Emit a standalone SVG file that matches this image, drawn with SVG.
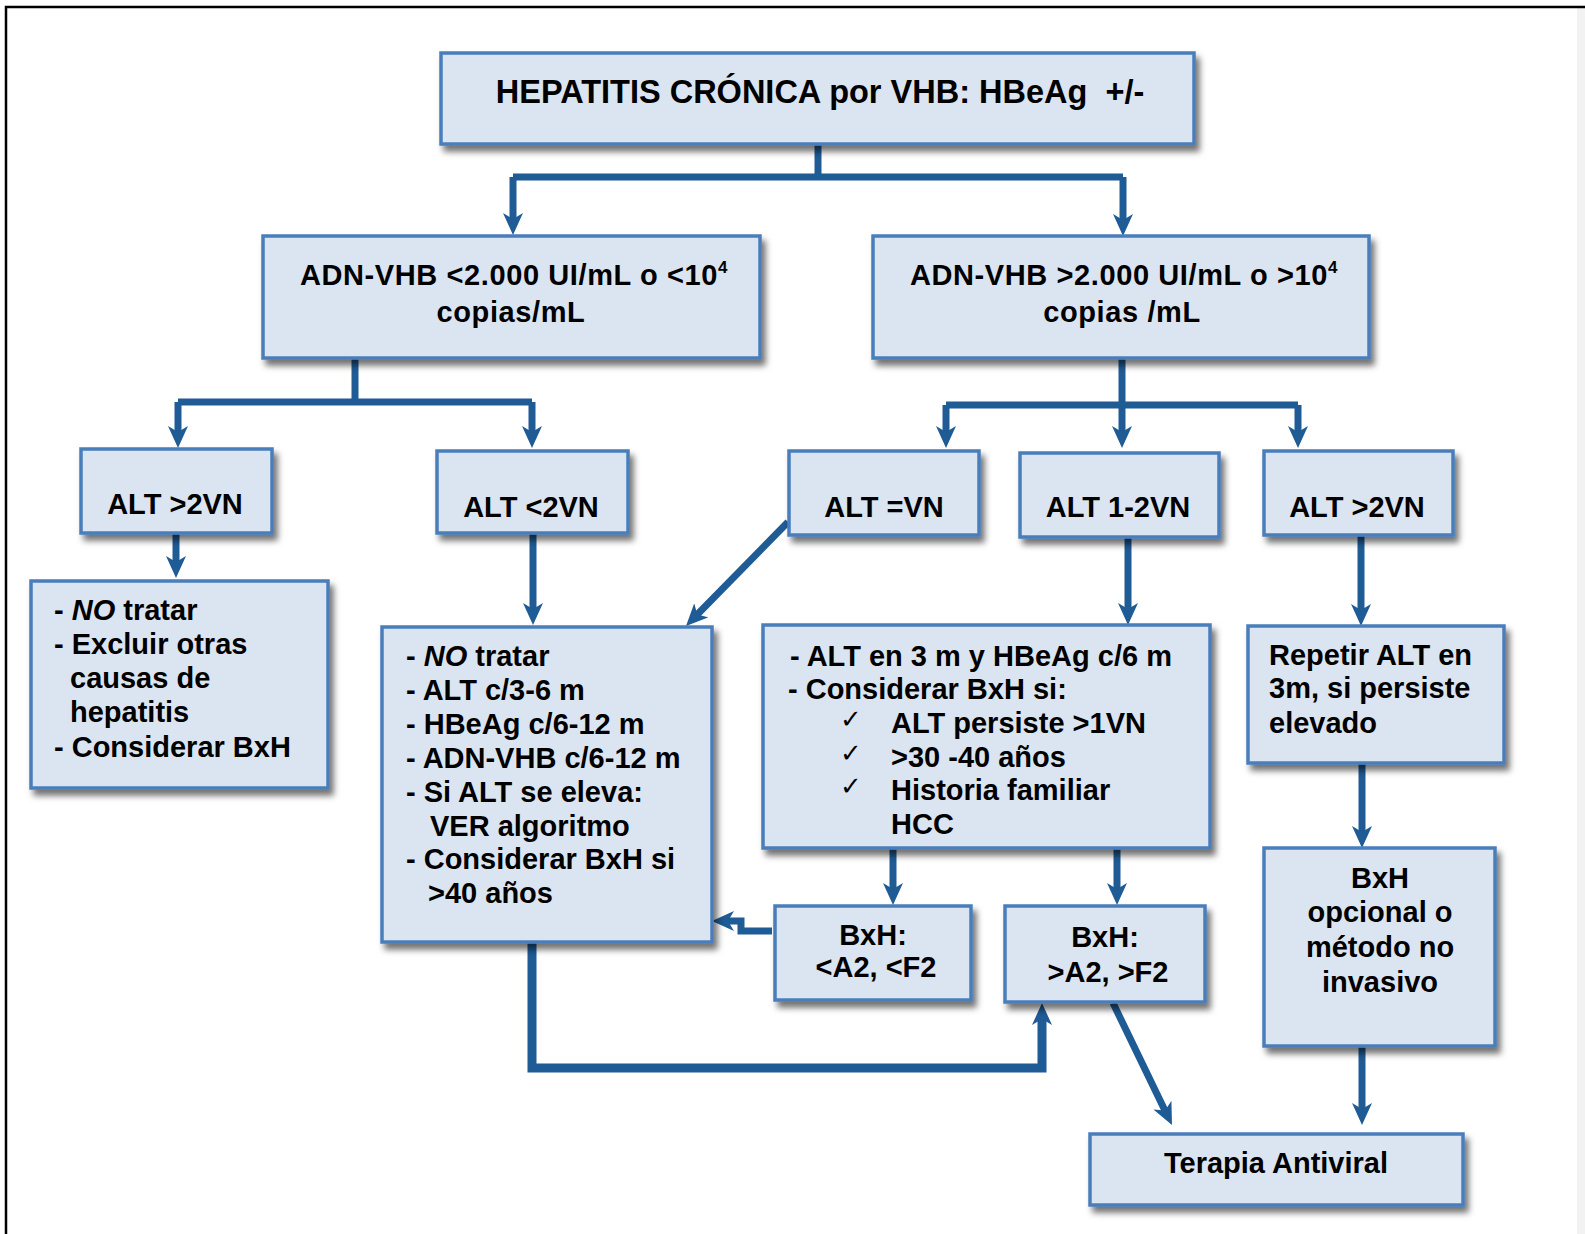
<svg xmlns="http://www.w3.org/2000/svg" width="1585" height="1234" viewBox="0 0 1585 1234">
<style>
.box{fill:#dbe5f1;stroke:#4a7ebb;stroke-width:3.5;filter:url(#sh)}
.t{font-family:"Liberation Sans",Arial,sans-serif;font-weight:bold;font-size:29px;fill:#000}
.c{text-anchor:middle}
.ls{letter-spacing:0.6px}
.it{font-style:italic}
.ck{font-family:"DejaVu Sans",sans-serif;font-weight:normal;font-size:26px}
.con{fill:none;stroke:#1f5b95;stroke-width:7;stroke-linejoin:miter}
.arr{marker-end:url(#ah)}
</style>
<defs>
<filter id="sh" x="-10%" y="-10%" width="130%" height="140%">
<feDropShadow dx="4" dy="6" stdDeviation="3" flood-color="#000" flood-opacity="0.55"/>
</filter>
<marker id="ah" markerUnits="userSpaceOnUse" markerWidth="24" markerHeight="22" refX="8" refY="10" orient="auto">
<path d="M0,0 L22,10 L0,20 L6,10 z" fill="#1f5b95"/>
</marker>
</defs>
<rect width="1585" height="1234" fill="#fff"/>
<rect x="1577" y="8" width="8" height="1226" fill="#f2f2f2"/>
<path d="M6,1234 V7 H1585" fill="none" stroke="#000" stroke-width="2.5"/>

<g id="connectors">
<path class="con" d="M818,144 V177"/>
<path class="con" d="M513,177 H1123"/>
<path class="con arr" d="M513,177 V221"/>
<path class="con arr" d="M1123,177 V222"/>
<path class="con" d="M355,358 V402"/>
<path class="con" d="M178,402 H532"/>
<path class="con arr" d="M178,402 V434"/>
<path class="con arr" d="M532,402 V434"/>
<path class="con arr" d="M1122,358 V434"/>
<path class="con" d="M946,405 H1298"/>
<path class="con arr" d="M946,405 V434"/>
<path class="con arr" d="M1298,405 V434"/>
<path class="con arr" d="M176,533 V564"/>
<path class="con arr" d="M533,533 V611"/>
<path class="con arr" d="M788,522 L695.8,616"/>
<path class="con arr" d="M1128,537 V611"/>
<path class="con arr" d="M1361,535 V612"/>
<path class="con arr" d="M1362,763 V834"/>
<path class="con arr" d="M1362,1046 V1111"/>
<path class="con arr" d="M893,848 V891"/>
<path class="con arr" d="M1117,848 V891"/>
<path class="con arr" d="M1113,1003 L1165.9,1112.4"/>
<path class="con arr" d="M772,931 H741 V921 H726"/>
<path class="con arr" style="stroke-width:9" d="M532,942 V1068 H1042 V1017"/>
</g>

<g id="n_top">
<rect class="box" x="441" y="53" width="753" height="91"/>
<text class="t c" x="820" y="103" style="font-size:32.5px" xml:space="preserve">HEPATITIS CRÓNICA por VHB: HBeAg  +/-</text>
</g>

<g id="n_adn_low">
<rect class="box" x="263" y="236" width="497" height="122"/>
<text class="t c ls" x="514" y="285">ADN-VHB &lt;2.000 UI/mL o &lt;10<tspan dy="-12" font-size="17">4</tspan></text>
<text class="t c ls" x="511" y="322">copias/mL</text>
</g>

<g id="n_adn_high">
<rect class="box" x="873" y="236" width="496" height="122"/>
<text class="t c ls" x="1124" y="285">ADN-VHB &gt;2.000 UI/mL o &gt;10<tspan dy="-12" font-size="17">4</tspan></text>
<text class="t c ls" x="1122" y="322">copias /mL</text>
</g>

<g id="n_alt_gt2_l">
<rect class="box" x="81" y="449" width="191" height="84"/>
<text class="t c" x="175" y="514">ALT &gt;2VN</text>
</g>
<g id="n_alt_lt2">
<rect class="box" x="437" y="451" width="191" height="82"/>
<text class="t c" x="531" y="517">ALT &lt;2VN</text>
</g>
<g id="n_alt_eq">
<rect class="box" x="789" y="451" width="190" height="84"/>
<text class="t c" x="884" y="517">ALT =VN</text>
</g>
<g id="n_alt_12">
<rect class="box" x="1020" y="453" width="199" height="84"/>
<text class="t c" x="1118" y="517">ALT 1-2VN</text>
</g>
<g id="n_alt_gt2_r">
<rect class="box" x="1264" y="451" width="189" height="84"/>
<text class="t c" x="1357" y="517">ALT &gt;2VN</text>
</g>

<g id="n_no_tratar_l">
<rect class="box" x="31" y="581" width="297" height="207"/>
<text class="t" x="54" y="620">- <tspan class="it">NO</tspan> tratar</text>
<text class="t" x="54" y="654">- Excluir otras</text>
<text class="t" x="70" y="688">causas de</text>
<text class="t" x="70" y="722">hepatitis</text>
<text class="t" x="54" y="757">- Considerar BxH</text>
</g>

<g id="n_no_tratar_m">
<rect class="box" x="382" y="627" width="330" height="315"/>
<text class="t" x="406" y="666">- <tspan class="it">NO</tspan> tratar</text>
<text class="t" x="406" y="700">- ALT c/3-6 m</text>
<text class="t" x="406" y="734">- HBeAg c/6-12 m</text>
<text class="t" x="406" y="768">- ADN-VHB c/6-12 m</text>
<text class="t" x="406" y="802">- Si ALT se eleva:</text>
<text class="t" x="430" y="836">VER algoritmo</text>
<text class="t" x="406" y="869">- Considerar BxH si</text>
<text class="t" x="428" y="903">&gt;40 años</text>
</g>

<g id="n_alt_3m">
<rect class="box" x="763" y="625" width="447" height="223"/>
<text class="t" x="790" y="666">- ALT en 3 m y HBeAg c/6 m</text>
<text class="t" x="788" y="699">- Considerar BxH si:</text>
<text class="t ck" x="840" y="728">✓</text>
<text class="t" x="891" y="733">ALT persiste &gt;1VN</text>
<text class="t ck" x="840" y="762">✓</text>
<text class="t" x="891" y="767">&gt;30 -40 años</text>
<text class="t ck" x="840" y="795">✓</text>
<text class="t" x="891" y="800">Historia familiar</text>
<text class="t" x="891" y="834">HCC</text>
</g>

<g id="n_repetir">
<rect class="box" x="1248" y="626" width="256" height="137"/>
<text class="t" x="1269" y="665">Repetir ALT en</text>
<text class="t" x="1269" y="698">3m, si persiste</text>
<text class="t" x="1269" y="733">elevado</text>
</g>

<g id="n_bxh_opc">
<rect class="box" x="1264" y="848" width="231" height="198"/>
<text class="t c" x="1380" y="888">BxH</text>
<text class="t c" x="1380" y="922">opcional o</text>
<text class="t c" x="1380" y="957">método no</text>
<text class="t c" x="1380" y="992">invasivo</text>
</g>

<g id="n_bxh_low">
<rect class="box" x="775" y="906" width="196" height="94"/>
<text class="t c" x="873" y="945">BxH:</text>
<text class="t c" x="876" y="977">&lt;A2, &lt;F2</text>
</g>

<g id="n_bxh_high">
<rect class="box" x="1005" y="906" width="200" height="96"/>
<text class="t c" x="1105" y="947">BxH:</text>
<text class="t c" x="1108" y="982">&gt;A2, &gt;F2</text>
</g>

<g id="n_terapia">
<rect class="box" x="1090" y="1134" width="373" height="71"/>
<text class="t c" x="1276" y="1173">Terapia Antiviral</text>
</g>
</svg>
